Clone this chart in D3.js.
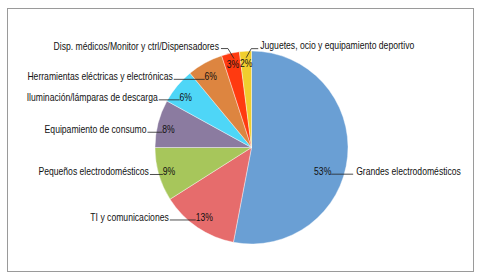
<!DOCTYPE html>
<html lang="es">
<head>
<meta charset="utf-8">
<title>Pie chart</title>
<script src="https://cdn.jsdelivr.net/npm/d3@7"></script>
<style>
  body { margin: 0; background: #fff; overflow: hidden; }
  svg { display: block; }
  svg text { font-family: "Liberation Sans", Arial, sans-serif; font-size: 10.5px; fill: #111; }
</style>
</head>
<body>
<script>
// data
var categories = ["Grandes electrodomésticos", "TI y comunicaciones", "Pequeños electrodomésticos",
  "Equipamiento de consumo", "Iluminación/lámparas de descarga", "Herramientas eléctricas y electrónicas",
  "Disp. médicos/Monitor y ctrl/Dispensadores", "Juguetes, ocio y equipamiento deportivo"];
var values = [53, 13, 9, 8, 6, 6, 3, 2];
var colors = ["#6a9fd4", "#e66c6c", "#a7c65b", "#8b7ba0", "#4ed6f7", "#dd8540", "#ff3a10", "#f0ce2e"];

var w = 479, h = 277;
var cx = 251.5, cy = 147.5, r = 96.5;

// where the % labels sit (radius, extra angle in deg) and how long the leader is
var pctRadius = [75, 84, 86, 85, 83, 82, 85, 84];
var pctShift = [13, 0, 0, -2, -2, -1, 0, 0];
var leader = [22, 26, 13, 15, 21, 31, 0, 0];
var squeeze = 0.82; // narrow font look

var svg = d3.select("body").append("svg")
  .attr("width", w)
  .attr("height", h);

svg.append("rect")
  .attr("x", 7.5).attr("y", 8.5)
  .attr("width", 466).attr("height", 263)
  .attr("fill", "none")
  .attr("stroke", "#9a9a9a")
  .attr("stroke-width", 1);

var pie = d3.pie().sort(null).value(function(d) { return d; });
var arcs = pie(values);
var arc = d3.arc().innerRadius(0).outerRadius(r);

var g = svg.append("g").attr("transform", "translate(" + cx + "," + cy + ")");

g.selectAll("path")
  .data(arcs)
  .enter()
  .append("path")
  .attr("d", arc)
  .attr("fill", function(d, i) { return colors[i]; })
  .attr("stroke", "#fff")
  .attr("stroke-width", 0.4);

// squeezed text, drawn at (x, y)
function label(x, y, anchor, txt) {
  g.append("g")
    .attr("transform", "translate(" + x + "," + y + ") scale(" + squeeze + ",1)")
    .append("text")
    .attr("dy", "0.35em")
    .attr("text-anchor", anchor)
    .text(txt);
}

// percent labels
var pts = arcs.map(function(d, i) {
  var a = (d.startAngle + d.endAngle) / 2 + pctShift[i] * Math.PI / 180;
  return [Math.sin(a) * pctRadius[i], -Math.cos(a) * pctRadius[i]];
});

arcs.forEach(function(d, i) {
  label(pts[i][0], pts[i][1], "middle", values[i] + "%");
});

// category labels + leaders
var pctHalf = function(i) { return values[i] >= 10 ? 8.5 : 6; };

arcs.forEach(function(d, i) {
  var p = pts[i];
  var lines, tx, ty, anchor;
  if (i === 0) {
    var x0 = p[0] + pctHalf(i);
    lines = [[x0, p[1] + 3], [x0 + leader[i], p[1] + 3]];
    tx = x0 + leader[i] + 3; ty = p[1]; anchor = "start";
  } else if (i === 6) {
    lines = [[p[0] + 1, p[1] - 6], [p[0] - 5, p[1] - 16], [p[0] - 12, p[1] - 16]];
    tx = p[0] - 14; ty = p[1] - 18; anchor = "end";
  } else if (i === 7) {
    lines = [[p[0], p[1] - 6], [p[0] + 5, p[1] - 15], [p[0] + 12, p[1] - 15]];
    tx = p[0] + 14; ty = p[1] - 18; anchor = "start";
  } else {
    var x1 = p[0] - pctHalf(i);
    lines = [[x1, p[1] + 3], [x1 - leader[i], p[1] + 3]];
    tx = x1 - leader[i] - 1; ty = p[1]; anchor = "end";
  }
  g.append("path")
    .attr("d", d3.line()(lines))
    .attr("fill", "none")
    .attr("stroke", "#222")
    .attr("stroke-width", 0.8);
  label(tx, ty, anchor, categories[i]);
});
</script>
</body>
</html>
